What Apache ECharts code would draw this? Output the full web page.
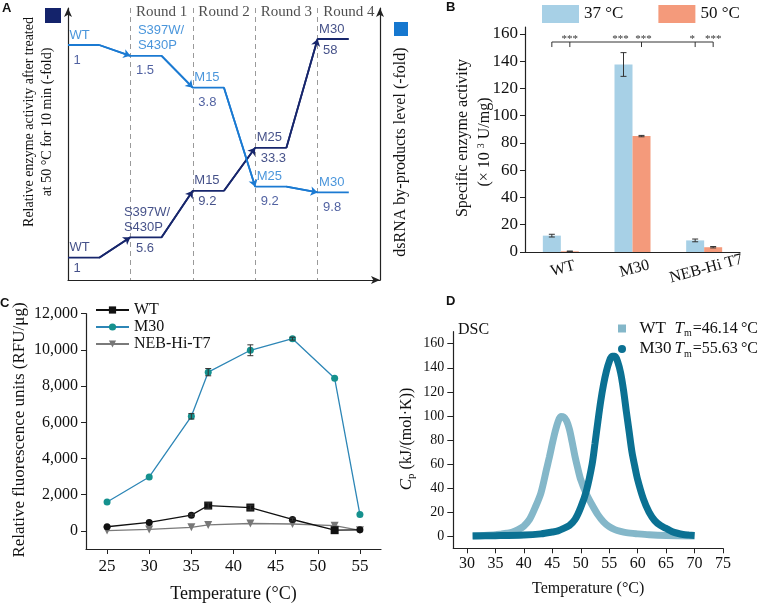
<!DOCTYPE html>
<html><head><meta charset="utf-8">
<script src="https://cdn.jsdelivr.net/npm/echarts@6/dist/echarts.min.js"></script>
<style>html,body{margin:0;padding:0;background:#fff}#c{width:766px;height:604px}</style>
</head><body><div id="c"></div>
<script>
// ---------------- DATA ----------------
// Panel A (schematic evolution path)
const roundNames = ['Round 1', 'Round 2', 'Round 3', 'Round 4'];
const thermoMutants = ['WT', 'S397W/\nS430P', 'M15', 'M25', 'M30'];
const thermoFold = ['1', '5.6', '9.2', '33.3', '58'];
const thermoLevel = [8.2, 15.7, 32.8, 48.6, 88.6];      // plotted schematic level (0-100)
const dsMutants = ['WT', 'S397W/\nS430P', 'M15', 'M25', 'M30'];
const dsFold = ['1', '1.5', '3.8', '9.2', '9.8'];
const dsLevel = [86.4, 82.4, 70.7, 34.3, 32.2];        // plotted schematic level (0-100)

// Panel B
const enzymes = ['WT', 'M30', 'NEB-Hi T7'];
const act37 = [12, 137.5, 8.5];
const act37Err = [1, 8.7, 1];
const act50 = [0.5, 85, 3.5];
const act50Err = [0.2, 0.5, 0.5];
const actTicks = [0, 20, 40, 60, 80, 100, 120, 140, 160];
const sigLabels = ['***', '***', '***', '*', '***'];

// Panel C
const tempsC = [25, 30, 35, 37, 42, 47, 52, 55];
const rfuWT = [230, 470, 870, 1400, 1290, 630, 40, 60];
const rfuWTErr = [0, 0, 60, 150, 130, 80, 0, 0];
const rfuM30 = [1600, 2980, 6330, 8770, 9980, 10620, 8430, 900];
const rfuM30Err = [0, 0, 150, 200, 300, 80, 0, 0];
const rfuNEB = [20, 80, 200, 330, 410, 380, 290, 30];
const tempTicksC = [25, 30, 35, 40, 45, 50, 55];
const rfuTicks = [0, 2000, 4000, 6000, 8000, 10000, 12000];

// Panel D
const wtT = [31, 33, 35, 36, 37, 38, 39, 40, 41, 42, 43, 44, 44.5, 45, 45.5, 46, 46.5, 47, 47.5, 48, 48.5, 49, 49.5, 50, 51, 52, 53, 54, 55, 56, 57, 58, 60, 62, 65, 70];
const wtCp = [0.4, 0.7, 1.2, 1.8, 2.5, 3.5, 5.5, 8.5, 14, 24, 36, 56, 66, 77, 87, 95, 99.5, 99, 96, 89, 78, 66, 56, 47, 35, 26, 18, 12, 8, 5.5, 4, 3, 2, 1.2, 0.6, 0.3];
const m30T = [31, 35, 40, 43, 45, 46, 47, 48, 49, 50, 51, 52, 52.5, 53, 53.5, 54, 54.5, 55, 55.5, 56, 56.5, 57, 57.5, 58, 58.5, 59, 59.5, 60, 61, 62, 63, 64, 65, 66, 67, 68, 69, 70];
const m30Cp = [0.3, 0.5, 1, 2, 3.5, 4.5, 6.5, 9, 14, 24, 38, 60, 77, 95, 112, 126, 137, 145, 149.5, 149.5, 145, 136, 122, 104, 87, 70, 58, 47, 31, 20, 13, 9, 6.5, 4, 2.5, 1.5, 1, 0.6];
const tmValues = ['46.14', '55.63'];
const dscTempTicks = [30, 35, 40, 45, 50, 55, 60, 65, 70, 75];
const cpTicks = [0, 20, 40, 60, 80, 100, 120, 140, 160];

// ---------------- STYLE ----------------
const SERIF = "'Liberation Serif','Times New Roman',serif";
const SANS = "'Liberation Sans',Arial,sans-serif";
const NAVY = '#17266c', BLUE = '#1b7ad2', NUMC = '#24398a';
const C37 = '#a7d0e6', C50 = '#f49a7b';
const AX = '#222';

function stepData(levels) {
  const d = [];
  levels.forEach((v, k) => { d.push([k, v]); d.push([k + 0.5, v]); });
  return d;
}
function arrowData(levels) {
  const d = [];
  for (let k = 0; k < levels.length - 1; k++) d.push({ coords: [[k + 0.5, levels[k]], [k + 1, levels[k + 1]]] });
  return d;
}
function nameLabels(levels, names, color, multiDx) {
  return levels.map((v, k) => ({
    value: [k, v],
    label: {
      show: true, formatter: names[k], position: [names[k].indexOf('\n') >= 0 ? multiDx : 2, -2],
      align: 'left', verticalAlign: 'bottom', color: color, fontFamily: SANS, fontSize: 13, lineHeight: 15
    }
  }));
}
function valueLabels(levels, vals, color, dy) {
  return levels.map((v, k) => ({
    value: [k, v],
    label: {
      show: true, formatter: vals[k], position: [6, dy],
      align: 'left', verticalAlign: 'top', color: color, fontFamily: SANS, fontSize: 13
    }
  }));
}
function labelScatter(data) {
  return { type: 'scatter', xAxisIndex: 0, yAxisIndex: 0, symbolSize: 1, itemStyle: { color: 'transparent' }, data: data, z: 5, silent: true };
}

// error bar renderer
function errRender(params, api) {
  const x = api.value(0), y = api.value(1), e = api.value(2);
  const off = api.value(3) || 0;
  const cap = api.value(4) || 3;
  const top = api.coord([x, y + e]); const bot = api.coord([x, y - e]);
  const px = top[0] + off;
  const st = { stroke: '#333', lineWidth: 1 };
  return { type: 'group', children: [
    { type: 'line', shape: { x1: px, y1: top[1], x2: px, y2: bot[1] }, style: st },
    { type: 'line', shape: { x1: px - cap, y1: top[1], x2: px + cap, y2: top[1] }, style: st },
    { type: 'line', shape: { x1: px - cap, y1: bot[1], x2: px + cap, y2: bot[1] }, style: st }
  ]};
}

const errB = [];
enzymes.forEach((e, i) => {
  errB.push([i, act37[i], act37Err[i], -9, 3]);
  errB.push([i, act50[i], act50Err[i], 9, 3]);
});
const errC = [];
tempsC.forEach((t, i) => {
  if (rfuWTErr[i] > 0) errC.push([t, rfuWT[i], rfuWTErr[i], 0, 3]);
  if (rfuM30Err[i] > 0) errC.push([t, rfuM30[i], rfuM30Err[i], 0, 3]);
});

const wtSymbols = ['circle', 'circle', 'circle', 'rect', 'rect', 'circle', 'rect', 'circle'];
const starShift = [0, -3, 2, -3, 0];

const chart = echarts.init(document.getElementById('c'));
const option = {
  animation: false,
  textStyle: { fontFamily: SERIF },
  grid: [
    { left: 68, top: 8, width: 312, height: 272 },
    { left: 525, top: 27, width: 215, height: 225 },
    { left: 86, top: 313.7, width: 295, height: 237 },
    { left: 453.3, top: 331.7, width: 269.7, height: 216.6 }
  ],
  xAxis: [
    { gridIndex: 0, type: 'value', min: 0, max: 5, interval: 1,
      axisLine: { onZero: false, symbol: ['none', 'arrow'], symbolSize: [6, 9], lineStyle: { color: AX, width: 1.2 } },
      axisTick: { show: false }, axisLabel: { show: false },
      splitLine: { show: true, lineStyle: { type: [5, 4], color: '#9a9a9a', width: 1 } } },
    { gridIndex: 1, type: 'category', data: enzymes,
      axisLine: { lineStyle: { color: AX, width: 1.2 } },
      axisTick: { alignWithLabel: true, length: 5, lineStyle: { color: AX } },
      axisLabel: { interval: 0, rotate: 15, align: 'center', verticalAlign: 'top', margin: 9, color: '#111', fontFamily: SERIF, fontSize: 16 } },
    { gridIndex: 2, type: 'value', min: 22.5, max: 57.5,
      axisLine: { onZero: false, lineStyle: { color: AX, width: 1.2 } },
      axisTick: { customValues: tempTicksC, length: 5, lineStyle: { color: AX } },
      axisLabel: { customValues: tempTicksC, margin: 9, color: '#111', fontFamily: SERIF, fontSize: 17 },
      splitLine: { show: false },
      name: 'Temperature (°C)', nameLocation: 'middle', nameGap: 36,
      nameTextStyle: { color: '#111', fontFamily: SERIF, fontSize: 18 } },
    { gridIndex: 3, type: 'value', min: 27.6, max: 75,
      axisLine: { onZero: false, lineStyle: { color: AX, width: 1.2 } },
      axisTick: { customValues: dscTempTicks, length: 5, lineStyle: { color: AX } },
      axisLabel: { customValues: dscTempTicks, margin: 7, color: '#111', fontFamily: SERIF, fontSize: 16 },
      splitLine: { show: false },
      name: 'Temperature (°C)', nameLocation: 'middle', nameGap: 32,
      nameTextStyle: { color: '#111', fontFamily: SERIF, fontSize: 16 } }
  ],
  yAxis: [
    { gridIndex: 0, type: 'value', min: 0, max: 100,
      axisLine: { show: true, onZero: false, symbol: ['none', 'arrow'], symbolSize: [6, 9], lineStyle: { color: AX, width: 1.2 } },
      axisTick: { show: false }, axisLabel: { show: false }, splitLine: { show: false } },
    { gridIndex: 0, type: 'value', min: 0, max: 100, position: 'right',
      axisLine: { show: true, onZero: false, symbol: ['none', 'arrow'], symbolSize: [6, 9], lineStyle: { color: AX, width: 1.2 } },
      axisTick: { show: false }, axisLabel: { show: false }, splitLine: { show: false } },
    { gridIndex: 1, type: 'value', min: 0, max: 165,
      axisLine: { show: true, lineStyle: { color: AX, width: 1.2 } },
      axisTick: { show: true, customValues: actTicks, length: 5, lineStyle: { color: AX } },
      axisLabel: { customValues: actTicks, margin: 7, color: '#111', fontFamily: SERIF, fontSize: 17 },
      splitLine: { show: false } },
    { gridIndex: 2, type: 'value', min: -1000, max: 12000,
      axisLine: { show: true, onZero: false, lineStyle: { color: AX, width: 1.2 } },
      axisTick: { show: true, customValues: rfuTicks, length: 5, lineStyle: { color: AX } },
      axisLabel: { customValues: rfuTicks, margin: 8, color: '#111', fontFamily: SERIF, fontSize: 16,
        formatter: v => Number(v).toLocaleString('en-US') },
      splitLine: { show: false } },
    { gridIndex: 3, type: 'value', min: -10, max: 170,
      axisLine: { show: true, onZero: false, lineStyle: { color: AX, width: 1.2 } },
      axisTick: { show: true, customValues: cpTicks, length: 6, lineStyle: { color: AX } },
      axisLabel: { customValues: cpTicks, margin: 9, color: '#111', fontFamily: SERIF, fontSize: 14 },
      splitLine: { show: false } }
  ],
  legend: [
    { data: ['37 °C', '50 °C'], left: 537, top: 0, icon: 'rect', itemWidth: 37, itemHeight: 18, itemGap: 35,
      textStyle: { fontFamily: SERIF, fontSize: 17, color: '#111' } },
    { data: ['WT', 'M30', 'NEB-Hi-T7'], orient: 'vertical', left: 90, top: 297, itemWidth: 33, itemHeight: 9, itemGap: 1,
      textStyle: { fontFamily: SERIF, fontSize: 16, color: '#111' } },
    { data: [{ name: 'WT (DSC)', icon: 'rect' }, { name: 'M30 (DSC)', icon: 'circle' }], orient: 'vertical',
      left: 613, top: 315, itemWidth: 8, itemHeight: 8, itemGap: 2,
      formatter: function (n) {
        const i = n.indexOf('WT') === 0 ? 0 : 1;
        return '  {n|' + n.replace(' (DSC)', '') + '}{t|T}{m|m}{v|=' + tmValues[i] + '\u2009°C}';
      },
      textStyle: { fontFamily: SERIF, fontSize: 17, color: '#111',
        rich: {
          n: { width: 35, fontFamily: SERIF, fontSize: 17, color: '#111', lineHeight: 20 },
          t: { fontFamily: SERIF, fontStyle: 'italic', fontSize: 17, color: '#111', lineHeight: 20 },
          m: { fontFamily: SERIF, fontSize: 10, color: '#111', verticalAlign: 'bottom', lineHeight: 20, padding: [0, 1, 0, 0] },
          v: { fontFamily: SERIF, fontSize: 16, color: '#111', lineHeight: 20 }
        } } }
  ],
  graphic: { elements: [
    { type: 'text', left: 2, top: 2, style: { text: 'A', font: 'bold 13px ' + SANS, fill: '#111' } },
    { type: 'text', left: 446, top: 1, style: { text: 'B', font: 'bold 13px ' + SANS, fill: '#111' } },
    { type: 'text', left: 0, top: 297, style: { text: 'C', font: 'bold 13px ' + SANS, fill: '#111' } },
    { type: 'text', left: 446, top: 295, style: { text: 'D', font: 'bold 13px ' + SANS, fill: '#111' } },
    { type: 'rect', shape: { x: 45, y: 8, width: 16, height: 15 }, style: { fill: '#14236b' } },
    { type: 'rect', shape: { x: 394, y: 22, width: 14, height: 14 }, style: { fill: '#1577cf' } },
    { type: 'text', x: 38, y: 122, rotation: Math.PI / 2,
      style: { text: 'Relative enzyme activity after treated\nat 50 °C for 10 min (-fold)', font: '14px ' + SERIF,
        lineHeight: 18, fill: '#111', align: 'center', verticalAlign: 'middle' } },
    { type: 'text', x: 401, y: 152, rotation: Math.PI / 2,
      style: { text: 'dsRNA by-products level (-fold)', font: '16px ' + SERIF, fill: '#111', align: 'center', verticalAlign: 'middle' } },
    { type: 'text', x: 463, y: 138, rotation: Math.PI / 2,
      style: { text: 'Specific enzyme activity', font: '16px ' + SERIF, fill: '#111', align: 'center', verticalAlign: 'middle' } },
    { type: 'text', x: 485, y: 142, rotation: Math.PI / 2,
      style: { text: '(× 10 {s|3} U/mg)', font: '16px ' + SERIF, fill: '#111', align: 'center', verticalAlign: 'middle',
        rich: { s: { fontSize: 10, fontFamily: SERIF, verticalAlign: 'top', lineHeight: 18 } } } },
    { type: 'text', x: 20, y: 430, rotation: Math.PI / 2,
      style: { text: 'Relative fluorescence units (RFU/μg)', font: '17px ' + SERIF, fill: '#111', align: 'center', verticalAlign: 'middle' } },
    { type: 'text', x: 407, y: 439, rotation: Math.PI / 2,
      style: { text: '{c|C}{p|p}{r| (kJ/(mol·K))}', font: '16px ' + SERIF, fill: '#111', align: 'center', verticalAlign: 'middle',
        rich: { c: { fontFamily: SERIF, fontStyle: 'italic', fontSize: 17, lineHeight: 20 },
                p: { fontFamily: SERIF, fontSize: 11, verticalAlign: 'bottom', lineHeight: 20 },
                r: { fontFamily: SERIF, fontSize: 16, lineHeight: 20 } } } },
    { type: 'text', left: 458, top: 322, style: { text: 'DSC', font: '16px ' + SERIF, fill: '#111' } }
  ] },
  series: [
    // ---- Panel A ----
    { type: 'line', xAxisIndex: 0, yAxisIndex: 0, data: stepData(thermoLevel), symbol: 'none',
      lineStyle: { color: NAVY, width: 1.8 }, z: 3, silent: true },
    { type: 'line', xAxisIndex: 0, yAxisIndex: 0, data: stepData(dsLevel), symbol: 'none',
      lineStyle: { color: BLUE, width: 1.8 }, z: 3, silent: true },
    { type: 'lines', coordinateSystem: 'cartesian2d', xAxisIndex: 0, yAxisIndex: 0, data: arrowData(thermoLevel),
      symbol: ['none', 'arrow'], symbolSize: 7, lineStyle: { color: NAVY, width: 1.8, opacity: 1 }, z: 4, silent: true },
    { type: 'lines', coordinateSystem: 'cartesian2d', xAxisIndex: 0, yAxisIndex: 0, data: arrowData(dsLevel),
      symbol: ['none', 'arrow'], symbolSize: 7, lineStyle: { color: BLUE, width: 1.8, opacity: 1 }, z: 4, silent: true },
    labelScatter(nameLabels(thermoLevel, thermoMutants, NAVY, -6)),
    labelScatter(valueLabels(thermoLevel, thermoFold, NAVY, 5)),
    labelScatter(nameLabels(dsLevel, dsMutants, BLUE, 8)),
    labelScatter(valueLabels(dsLevel, dsFold, NUMC, 9)),
    labelScatter(roundNames.map((n, i) => ({ value: [i + 1.5, 100],
      label: { show: true, formatter: n, position: 'inside', offset: [0, 4], color: '#222', fontFamily: SERIF, fontSize: 15 } }))),
    // ---- Panel B ----
    { type: 'bar', name: '37 °C', xAxisIndex: 1, yAxisIndex: 2, data: act37, barWidth: 18, barGap: '0%',
      itemStyle: { color: C37 } },
    { type: 'bar', name: '50 °C', xAxisIndex: 1, yAxisIndex: 2, data: act50, barWidth: 18, barGap: '0%',
      itemStyle: { color: C50 } },
    { type: 'custom', xAxisIndex: 1, yAxisIndex: 2, data: errB, renderItem: errRender, z: 10, silent: true },
    { type: 'custom', xAxisIndex: 1, yAxisIndex: 2, data: [[0, 154]], z: 10, silent: true,
      renderItem: function (params, api) {
        const yL = api.coord([0, 154])[1];
        const yT = api.coord([0, 150.3])[1];
        const yS = api.coord([0, 158.5])[1];
        const px = (cat, side) => api.coord([cat, 0])[0] + side * 9;
        const st = { stroke: '#333', lineWidth: 1 };
        const ch = [{ type: 'line', shape: { x1: px(0, -1), y1: yL, x2: px(2, 1), y2: yL }, style: st }];
        [[0, -1], [0, 1], [1, 1], [2, -1], [2, 1]].forEach(t => {
          ch.push({ type: 'line', shape: { x1: px(t[0], t[1]), y1: yL, x2: px(t[0], t[1]), y2: yT }, style: st });
        });
        [[0, 1], [1, -1], [1, 1], [2, -1], [2, 1]].forEach((t, i) => {
          ch.push({ type: 'text', style: { text: sigLabels[i], x: px(t[0], t[1]) + starShift[i], y: yS + 3,
            align: 'center', verticalAlign: 'middle', font: '11px ' + SERIF, fill: '#333' } });
        });
        return { type: 'group', children: ch };
      } },
    // ---- Panel C ----
    { type: 'line', name: 'WT', xAxisIndex: 2, yAxisIndex: 3, symbol: 'rect', symbolSize: 7,
      data: tempsC.map((t, i) => ({ value: [t, rfuWT[i]], symbol: wtSymbols[i], symbolSize: wtSymbols[i] === 'rect' ? 8 : 7 })),
      lineStyle: { color: '#111', width: 1.3 }, itemStyle: { color: '#111' }, z: 4 },
    { type: 'line', name: 'M30', xAxisIndex: 2, yAxisIndex: 3, symbol: 'circle', symbolSize: 7,
      data: tempsC.map((t, i) => [t, rfuM30[i]]),
      lineStyle: { color: '#2d86b6', width: 1.3 }, itemStyle: { color: '#15918e' }, z: 4 },
    { type: 'line', name: 'NEB-Hi-T7', xAxisIndex: 2, yAxisIndex: 3, symbol: 'triangle', symbolRotate: 180, symbolSize: 8,
      data: tempsC.map((t, i) => [t, rfuNEB[i]]),
      lineStyle: { color: '#7a7a7a', width: 1.3 }, itemStyle: { color: '#777' }, z: 3 },
    { type: 'custom', xAxisIndex: 2, yAxisIndex: 3, data: errC, renderItem: errRender, z: 6, silent: true },
    // ---- Panel D ----
    { type: 'line', name: 'WT (DSC)', xAxisIndex: 3, yAxisIndex: 4, smooth: 0.3, symbol: 'none',
      data: wtT.map((t, i) => [t, wtCp[i]]), lineStyle: { color: '#84b7c9', width: 7 }, itemStyle: { color: '#84b7c9' }, z: 3 },
    { type: 'line', name: 'M30 (DSC)', xAxisIndex: 3, yAxisIndex: 4, smooth: 0.3, symbol: 'none',
      data: m30T.map((t, i) => [t, m30Cp[i]]), lineStyle: { color: '#0b7193', width: 7 }, itemStyle: { color: '#0b7193' }, z: 4 }
  ]
};
chart.setOption(option);
</script>
</body></html>
